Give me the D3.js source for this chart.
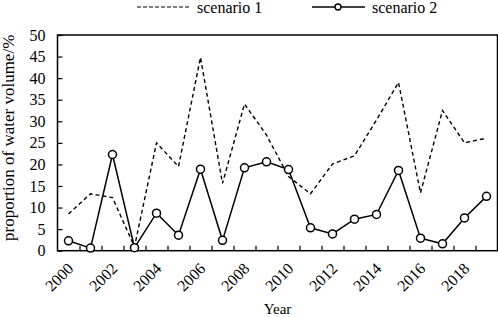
<!DOCTYPE html>
<html>
<head>
<meta charset="utf-8">
<script src="https://cdn.jsdelivr.net/npm/d3@7"></script>
<style>
  body { margin: 0; background: #fff; }
  svg, svg text { font-family: "Liberation Serif", "Times New Roman", serif; }
</style>
</head>
<body>
<div id="chart"></div>
<script>
const years = d3.range(2000, 2020);
const scenario1 = [8.5, 13.2, 12.3, 0.9, 25.0, 19.5, 44.8, 15.6, 34.0, 26.8,
                   17.2, 13.2, 20.1, 22.0, 30.3, 39.0, 13.4, 32.5, 25.0, 26.1];
const scenario2 = [2.3, 0.6, 22.3, 0.7, 8.7, 3.6, 18.9, 2.4, 19.2, 20.6,
                   18.8, 5.3, 3.9, 7.3, 8.4, 18.6, 2.9, 1.6, 7.6, 12.6];
const yTicks = d3.range(0, 51, 5);
const xLabels = years.filter(d => d % 2 === 0);

const W = 498, H = 317;
const M = { left: 57.5, right: 0.5, top: 35, bottom: 66.3 };
const FONT = '"Liberation Serif", "Times New Roman", serif';

const svg = d3.select('#chart')
    .append('svg')
    .attr('width', W)
    .attr('height', H);

// Scales
const x = d3.scaleBand()
    .domain(years)
    .range([M.left, W - M.right])
    .padding(0);

const xEdge = d3.scaleLinear()
    .domain([0, years.length])
    .range([M.left, W - M.right]);

const y = d3.scaleLinear()
    .domain([0, 50])
    .range([H - M.bottom, M.top]);

const cx = d => x(d) + x.bandwidth() / 2;

// Y axis (ticks point inward)
const yAxis = svg.append('g')
    .attr('transform', `translate(${M.left},0)`)
    .call(d3.axisLeft(y).tickValues(yTicks).tickSize(-5).tickPadding(12))
    .attr('font-family', FONT);
yAxis.select('.domain').remove();
yAxis.selectAll('line').attr('stroke', '#000').attr('stroke-width', 1.2);
yAxis.selectAll('text').attr('font-size', 16).attr('fill', '#000');

// X tick marks between categories
const xTickG = svg.append('g')
    .attr('transform', `translate(0,${H - M.bottom})`)
    .call(d3.axisBottom(xEdge).tickValues(d3.range(1, years.length)).tickSize(-5).tickFormat(''));
xTickG.select('.domain').remove();
xTickG.selectAll('line').attr('stroke', '#000').attr('stroke-width', 1.2);

// X labels (every other year, rotated)
const xLab = svg.append('g')
    .attr('transform', `translate(0,${H - M.bottom})`)
    .call(d3.axisBottom(x).tickValues(xLabels).tickSize(0))
    .attr('font-family', FONT);
xLab.select('.domain').remove();
xLab.selectAll('text')
    .attr('font-size', 16)
    .attr('fill', '#000')
    .attr('text-anchor', 'end')
    .attr('x', 0)
    .attr('y', 0)
    .attr('dy', '0.35em')
    .attr('transform', 'translate(2,15) rotate(-45)');

// Frame
svg.append('rect')
    .attr('x', M.left)
    .attr('y', M.top)
    .attr('width', W - M.right - M.left)
    .attr('height', H - M.bottom - M.top)
    .attr('fill', 'none')
    .attr('stroke', '#000')
    .attr('stroke-width', 1.5);

// Lines
const line = d3.line()
    .x((d, i) => cx(years[i]))
    .y(d => y(d));

svg.append('path')
    .datum(scenario1)
    .attr('d', line)
    .attr('fill', 'none')
    .attr('stroke', '#000')
    .attr('stroke-width', 1.4)
    .attr('stroke-dasharray', '4,3');

svg.append('path')
    .datum(scenario2)
    .attr('d', line)
    .attr('fill', 'none')
    .attr('stroke', '#000')
    .attr('stroke-width', 1.5);

svg.append('g')
    .selectAll('circle')
    .data(scenario2)
    .enter()
    .append('circle')
    .attr('cx', (d, i) => cx(years[i]))
    .attr('cy', d => y(d))
    .attr('r', 4)
    .attr('fill', '#fff')
    .attr('stroke', '#000')
    .attr('stroke-width', 1.5);

// Axis titles
svg.append('text')
    .attr('x', (M.left + W - M.right) / 2)
    .attr('y', 314)
    .attr('text-anchor', 'middle')
    .attr('font-size', 15)
    .text('Year');

svg.append('text')
    .attr('transform', `translate(14,${(M.top + H - M.bottom) / 2 - 5}) rotate(-90)`)
    .attr('text-anchor', 'middle')
    .attr('font-size', 17)
    .text('proportion of water volume/%');

// Legend
const leg = svg.append('g');
leg.append('line')
    .attr('x1', 137).attr('x2', 189)
    .attr('y1', 7).attr('y2', 7)
    .attr('stroke', '#000')
    .attr('stroke-width', 1.2)
    .attr('stroke-dasharray', '4,2');
leg.append('text')
    .attr('x', 197).attr('y', 13)
    .attr('font-size', 16)
    .text('scenario 1');
leg.append('line')
    .attr('x1', 312).attr('x2', 365)
    .attr('y1', 7).attr('y2', 7)
    .attr('stroke', '#000')
    .attr('stroke-width', 1.4);
leg.append('circle')
    .attr('cx', 338).attr('cy', 7)
    .attr('r', 3)
    .attr('fill', '#fff')
    .attr('stroke', '#000')
    .attr('stroke-width', 1.4);
leg.append('text')
    .attr('x', 372).attr('y', 13)
    .attr('font-size', 16)
    .text('scenario 2');
</script>
</body>
</html>
